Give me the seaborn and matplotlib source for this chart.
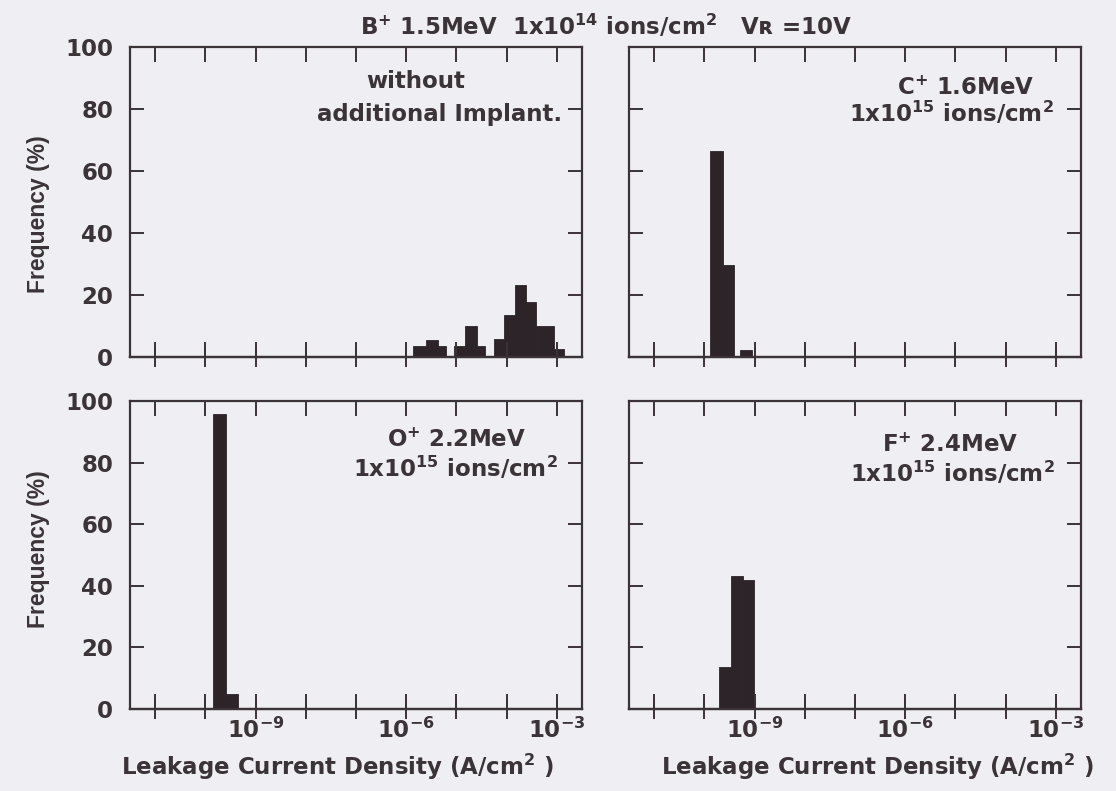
import numpy as np
import pandas as pd
import matplotlib
matplotlib.use("Agg")
import matplotlib.pyplot as plt
from matplotlib.ticker import NullLocator
import seaborn as sns

# log10 of the bin edges (A/cm2) and the frequency (%) of each bin
b_edges = [-5.86, -5.61, -5.36, -5.21, -5.04, -4.82, -4.59, -4.44,
           -4.26, -4.06, -3.84, -3.62, -3.42, -3.05, -2.85]
b_freq = [3.4, 5.6, 3.4, 0, 3.4, 9.9, 3.4, 0, 5.7, 13.7, 23.1, 17.7, 10.0, 2.7]

c_edges = [-9.88, -9.63, -9.40, -9.29, -9.05]
c_freq = [66.5, 29.8, 0, 2.2]

o_edges = [-9.85, -9.58, -9.35]
o_freq = [95.9, 4.9]

f_edges = [-9.70, -9.46, -9.23, -9.02]
f_freq = [13.7, 43.2, 41.9]

decades = [1e-11, 1e-10, 1e-9, 1e-8, 1e-7, 1e-6, 1e-5, 1e-4, 1e-3]
decade_labels = ["", "", "$10^{-9}$", "", "", "$10^{-6}$", "", "", "$10^{-3}$"]
y_ticks = [0, 20, 40, 60, 80, 100]

title = "B$^{+}$ 1.5MeV  1x10$^{14}$ ions/cm$^{2}$   V\u0280 =10V"
x_title = "Leakage Current Density (A/cm$^{2}$ )"
y_title = "Frequency (%)"

ink = "#3a3337"
bar_color = "#2c2428"
paper = "#efeef2"

sns.set_theme(style="ticks", rc={"axes.facecolor": paper, "figure.facecolor": paper})
plt.rcParams.update({
    "font.family": ["DejaVu Sans"],
    "font.weight": "bold",
    "font.size": 16.5,
    "mathtext.fontset": "custom",
    "mathtext.rm": "DejaVu Sans:bold",
    "mathtext.it": "DejaVu Sans:bold",
    "mathtext.bf": "DejaVu Sans:bold",
    "mathtext.sf": "DejaVu Sans:bold",
    "mathtext.default": "rm",
    "text.color": ink,
    "axes.labelcolor": ink,
    "axes.edgecolor": ink,
    "axes.axisbelow": False,
    "xtick.color": ink,
    "ytick.color": ink,
    "axes.linewidth": 1.6,
})

fig = plt.figure(figsize=(11.16, 7.91), dpi=100)

# axes boxes in figure fractions
col_x = [0.1165, 0.5636]
row_y = [0.5487, 0.1037]
ax_w = 0.405
ax_h = [0.3919, 0.3894]

panels = [
    (0, 0, b_edges, b_freq, [("without", 0.631, 0.868), ("additional Implant.", 0.684, 0.761)]),
    (0, 1, c_edges, c_freq, [("C$^{+}$ 1.6MeV", 0.746, 0.845), ("1x10$^{15}$ ions/cm$^{2}$", 0.713, 0.758)]),
    (1, 0, o_edges, o_freq, [("O$^{+}$ 2.2MeV", 0.723, 0.852), ("1x10$^{15}$ ions/cm$^{2}$", 0.719, 0.754)]),
    (1, 1, f_edges, f_freq, [("F$^{+}$ 2.4MeV", 0.710, 0.835), ("1x10$^{15}$ ions/cm$^{2}$", 0.715, 0.738)]),
]

for row, col, edges, freq, notes in panels:
    ax = fig.add_axes([col_x[col], row_y[row], ax_w, ax_h[row]])
    e = np.asarray(edges)
    df = pd.DataFrame({"J": 10 ** ((e[:-1] + e[1:]) / 2), "freq": freq})
    sns.histplot(data=df, x="J", weights="freq", bins=list(edges), log_scale=True,
                 stat="count", color=bar_color, edgecolor=bar_color,
                 linewidth=0.6, alpha=1, ax=ax)
    ax.set_axisbelow(False)

    ax.set_xlim(10 ** -11.5, 10 ** -2.5)
    ax.set_ylim(0, 100)
    ax.set_xticks(decades)
    ax.set_xticklabels(decade_labels)
    ax.xaxis.set_minor_locator(NullLocator())
    ax.set_yticks(y_ticks)

    if row == 0:
        ax.set_xlabel("")
    else:
        ax.set_xlabel(x_title, fontsize=16.5, fontweight="bold")
        ax.xaxis.set_label_coords(0.458 if col == 0 else 0.549, -0.14)

    if col == 1:
        ax.set_ylabel("")
    else:
        ax.set_ylabel(y_title, fontsize=16.5, fontweight="bold", family="Liberation Sans")
        ax.yaxis.set_label_coords(-0.177, 0.46 if row == 0 else 0.52)

    for txt, tx, ty in notes:
        ax.text(tx, ty, txt, transform=ax.transAxes, ha="center", va="baseline",
                fontsize=16.5, fontweight="bold")

    ax.tick_params(axis="x", which="major", direction="in", bottom=True, top=True,
                   length=11, width=1.4, color=ink, pad=6, labelsize=16.5,
                   labelbottom=(row == 1))
    ax.tick_params(axis="y", which="major", direction="in", left=True, right=True,
                   length=10, width=1.4, color=ink, pad=12, labelsize=16.5,
                   labelleft=(col == 0))

    # decade ticks crossing the bottom edge, as in the scan
    sec = ax.secondary_xaxis("bottom")
    sec.set_xticks(decades)
    sec.xaxis.set_minor_locator(NullLocator())
    sec.tick_params(axis="x", which="major", direction="inout", length=14, width=1.4,
                    color=ink, labelbottom=False)

fig.text(0.543, 0.9558, title, ha="center", va="baseline", fontsize=16.5, fontweight="bold")

fig.savefig("out.png", dpi=100)
